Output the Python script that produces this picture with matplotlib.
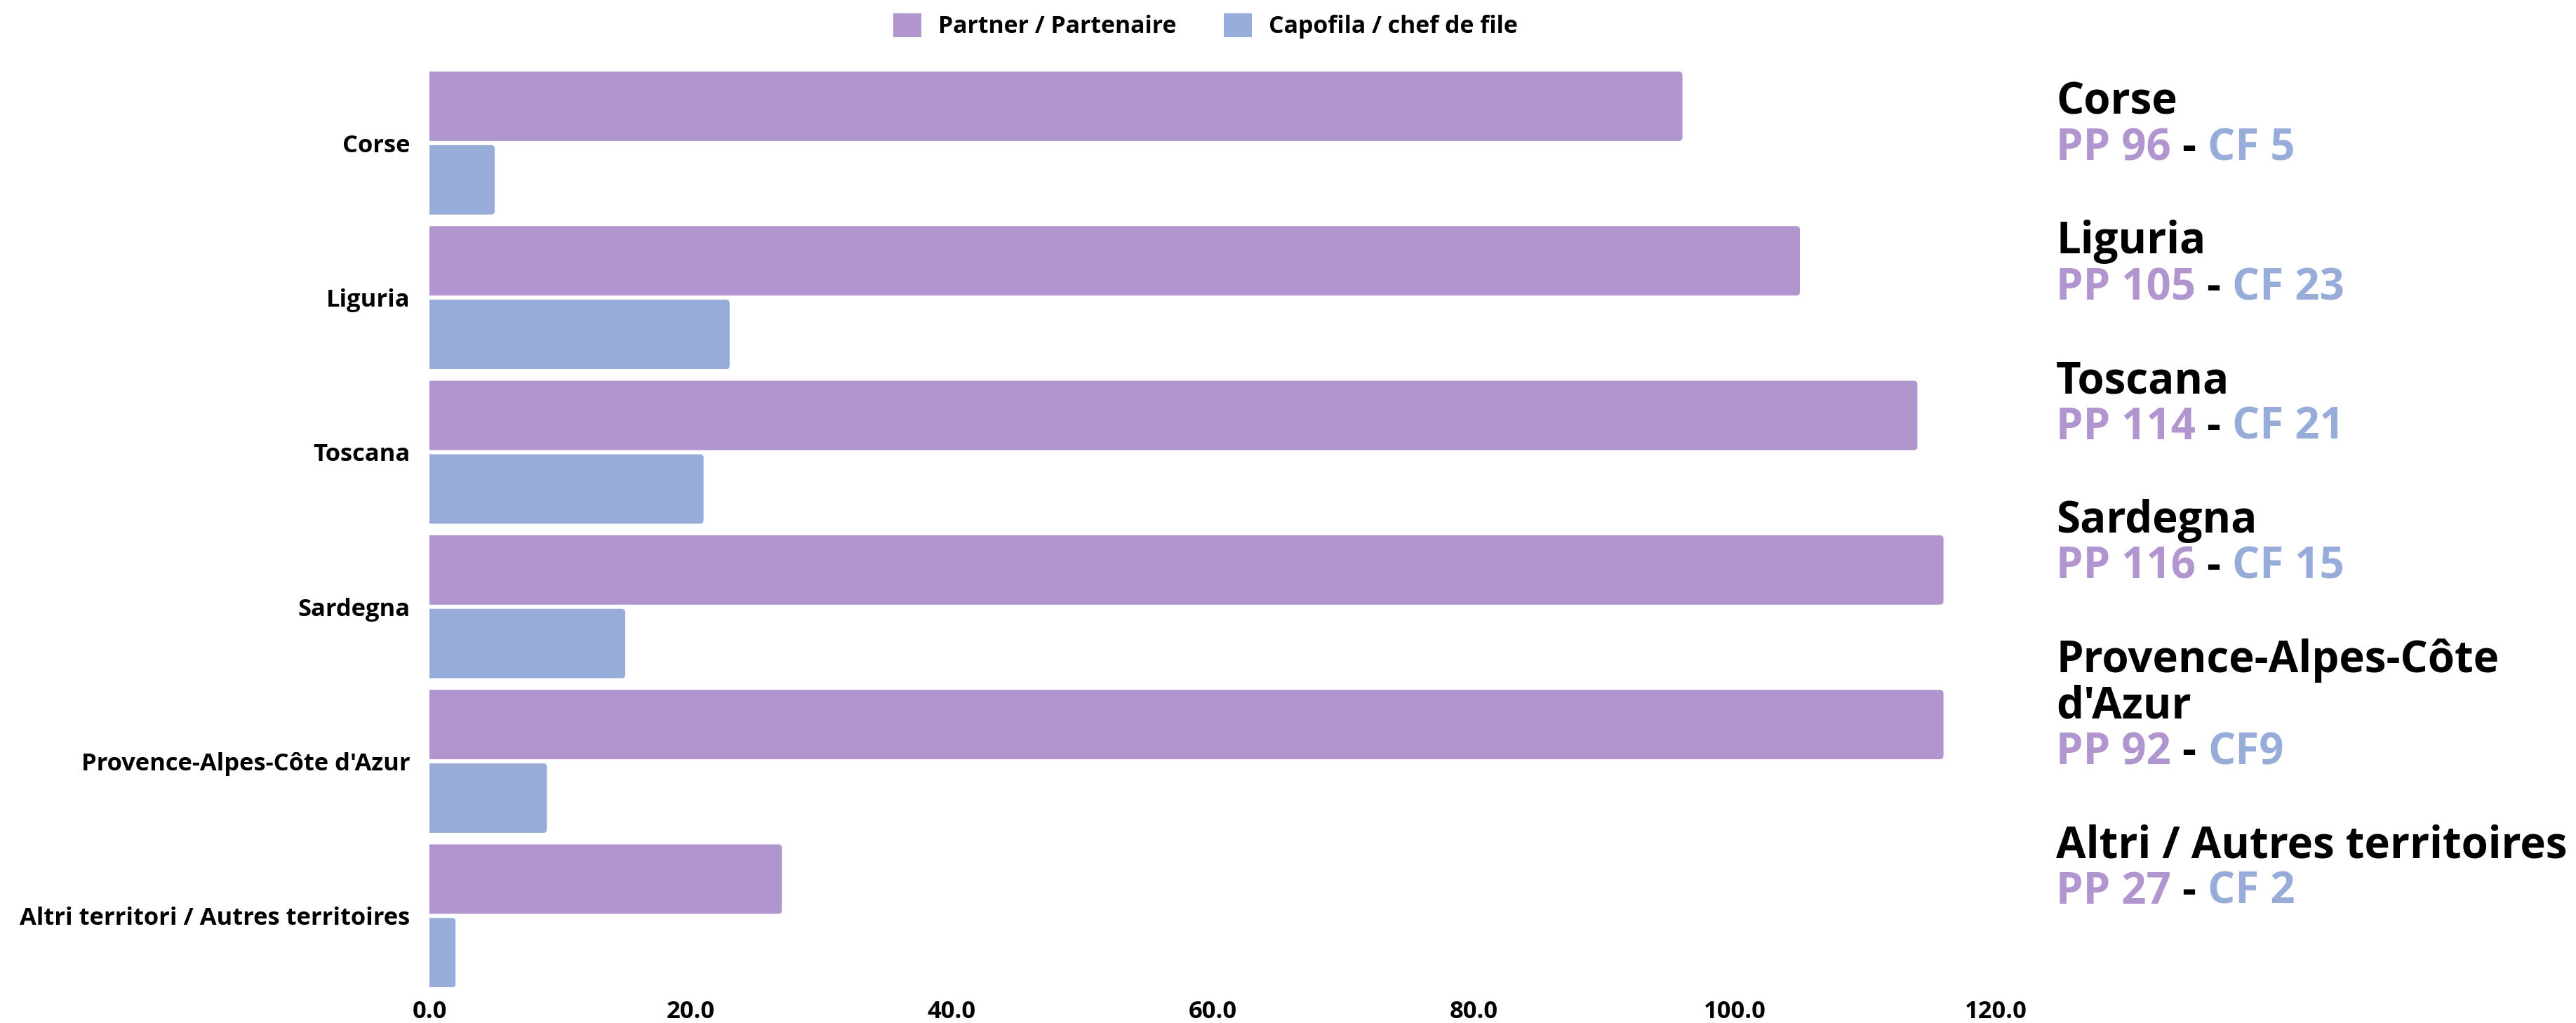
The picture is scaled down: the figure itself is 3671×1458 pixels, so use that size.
"""Partners and lead partners by territory: horizontal grouped bars with a side panel."""

import numpy as np
import matplotlib
matplotlib.use("Agg")
import matplotlib.pyplot as plt
from matplotlib.patches import FancyBboxPatch, Patch
from matplotlib.ticker import FuncFormatter

plt.rcParams["font.family"] = ["Open Sans", "DejaVu Sans"]
plt.rcParams["font.weight"] = "bold"

# --- data -------------------------------------------------------------------
REGIONS = ["Corse", "Liguria", "Toscana", "Sardegna",
           "Provence-Alpes-Côte d'Azur", "Altri territori / Autres territoires"]
PARTNER = [96, 105, 114, 116, 116, 27]
LEAD = [5, 23, 21, 15, 9, 2]
SERIES = ["Partner / Partenaire", "Capofila / chef de file"]
X_TICKS = [0, 20, 40, 60, 80, 100, 120]

# side panel text (as printed on the original)
PANEL_TITLES = [["Corse"], ["Liguria"], ["Toscana"], ["Sardegna"],
                ["Provence-Alpes-Côte", "d'Azur"], ["Altri / Autres territoires"]]
PANEL_PP = ["PP 96", "PP 105", "PP 114", "PP 116", "PP 92", "PP 27"]
PANEL_CF = ["CF 5", "CF 23", "CF 21", "CF 15", "CF9", "CF 2"]

# --- style ------------------------------------------------------------------
PURPLE = "#B195CF"
BLUE = "#98ACDA"
W, H = 3671, 1458
TICK_FS = 24.8
LEGEND_FS = 24.4
PANEL_FS = 44.5


def round_bars(ax, container, color, radius_px=5):
    """Swap the plain barh rectangles for ones with rounded right-hand corners."""
    bbox = ax.get_window_extent()
    x0, x1 = ax.get_xlim()
    y0, y1 = ax.get_ylim()
    px_x = bbox.width / abs(x1 - x0)
    px_y = bbox.height / abs(y1 - y0)
    r = radius_px / px_x
    aspect = (radius_px / px_y) / r
    for rect in container.patches:
        x, y = rect.get_x(), rect.get_y()
        w, h = rect.get_width(), rect.get_height()
        rect.remove()
        ax.add_patch(FancyBboxPatch((x - r, y), w + r, h,
                                    boxstyle=f"round,pad=0,rounding_size={r}",
                                    mutation_aspect=aspect, fc=color, ec="none"))


def colored_line(fig, renderer, x_px, base_px, segments, fs):
    """Write one line made of differently coloured pieces, left to right."""
    probe = fig.text(0, 0, "|", fontsize=fs, fontweight="bold")
    bar_w = probe.get_window_extent(renderer).width
    probe.remove()
    prefix = ""
    for txt, col in segments:
        t = fig.text(0, 0, prefix + "|", fontsize=fs, fontweight="bold")
        off = t.get_window_extent(renderer).width - bar_w if prefix else 0.0
        t.remove()
        fig.text((x_px + off) / W, 1 - base_px / H, txt, color=col, fontsize=fs,
                 fontweight="bold", va="baseline", ha="left")
        prefix += txt


fig = plt.figure(figsize=(W / 100, H / 100), dpi=100)
ax = fig.add_axes([612 / W, 50.8 / H, 2232 / W, 1305.2 / H])

y = np.arange(len(REGIONS))
bar_h, off = 0.449, 0.238
pp = ax.barh(y - off, PARTNER, height=bar_h, color=PURPLE)
cf = ax.barh(y + off, LEAD, height=bar_h, color=BLUE)

ax.set_xlim(0, 120)
ax.set_ylim(len(REGIONS) - 1 + off + bar_h / 2, -off - bar_h / 2)
round_bars(ax, pp, PURPLE)
round_bars(ax, cf, BLUE)

ax.set_xticks(X_TICKS)
ax.xaxis.set_major_formatter(FuncFormatter(lambda v, _: f"{v:.1f}"))
ax.set_yticks(y)
ax.set_yticklabels(REGIONS)
ax.tick_params(axis="y", length=0, labelsize=TICK_FS, pad=20)
ax.tick_params(axis="x", length=0, labelsize=TICK_FS, pad=13)
for s in ax.spines.values():
    s.set_visible(False)

handles = [Patch(fc=PURPLE), Patch(fc=BLUE)]
fig.legend(handles, SERIES, loc="center", bbox_to_anchor=(1718 / W, 1 - 37 / H),
           ncol=2, frameon=False, fontsize=LEGEND_FS, handlelength=1.18,
           handleheight=1.18, handletextpad=0.7, columnspacing=2.0, borderpad=0)

# side panel: title line(s) in black, then "PP n - CF n" in series colours
renderer = fig.canvas.get_renderer()
line_h, gap = 65.6, 133.2
base = 162.7
for titles, ptxt, ctxt in zip(PANEL_TITLES, PANEL_PP, PANEL_CF):
    for t in titles:
        fig.text(2930 / W, 1 - base / H, t, fontsize=PANEL_FS, fontweight="bold",
                 va="baseline", ha="left", color="black")
        base += line_h
    colored_line(fig, renderer, 2930, base,
                 [(ptxt, PURPLE), (" - ", "black"), (ctxt, BLUE)], PANEL_FS)
    base += gap

fig.savefig("out.png", dpi=100)
